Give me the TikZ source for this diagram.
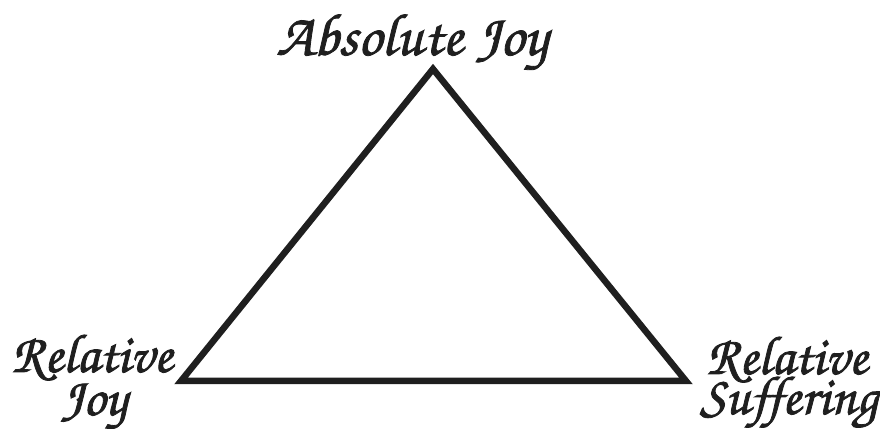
\documentclass[tikz,border=0pt]{standalone}
\usepackage[T1]{fontenc}
\newcommand\fbtext[1]{\special{pdf:literal direct 2 Tr 0.8 w}#1\special{pdf:literal direct 0 Tr 1 w}}
\newcommand\chfont[1]{\fontfamily{pzc}\fontseries{mb}\fontshape{it}\fontsize{#1}{#1}\selectfont}
\tikzset{
  lbl/.style={font=\chfont{55}, inner sep=0pt, anchor=base, text=black!88},
  tri/.style={draw=black!88, line width=6.5bp, line join=miter}
}
\begin{document}
\begin{tikzpicture}[x=1bp,y=-1bp]
\useasboundingbox (0,0) rectangle (880,445);
\coordinate (top) at (433,69);
\coordinate (bl) at (181,381);
\coordinate (br) at (686,381);
\draw[tri] (top) -- (br) -- (bl) -- cycle;
\node[lbl, font=\chfont{60}] (abs) at (412,55) {\fbtext{Absolute Joy}};
\node[lbl] (rj1) at (92,372) {\fbtext{Relative}};
\node[lbl] (rj2) at (94,415) {\fbtext{Joy}};
\node[lbl] (rs1) at (787,374) {\fbtext{Relative}};
\node[lbl] (rs2) at (789,414) {\fbtext{Suffering}};
\end{tikzpicture}
\end{document}
